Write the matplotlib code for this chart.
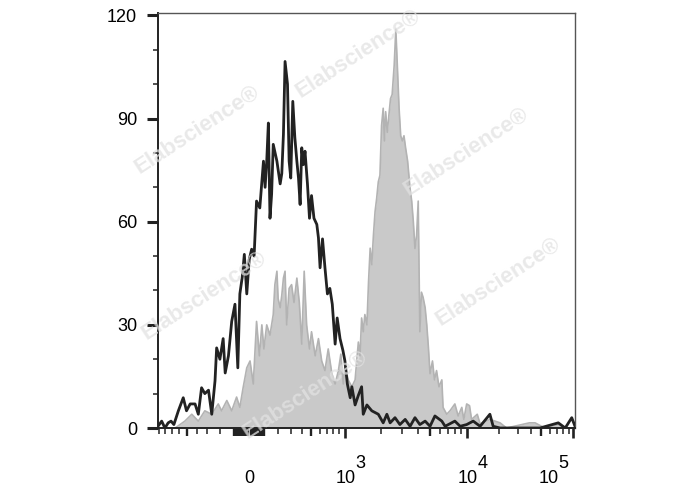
import numpy as np
import matplotlib.pyplot as plt
import matplotlib.transforms as mtransforms

plt.rcParams['font.family'] = ['Liberation Sans', 'DejaVu Sans']

# isotype / unstained control (black line): display channel (0-1024) vs count
ctrl_ch = [0, 9, 17, 25, 32, 39, 50, 62, 70, 79, 91, 99, 107, 115, 124, 132,
           140, 144, 152, 160, 165, 173, 181, 189, 196, 201, 207, 212, 218, 224,
           230, 236, 242, 250, 259, 263, 267, 271, 275, 279, 283, 292, 300, 304,
           308, 312, 318, 322, 326, 331, 336, 341, 345, 349, 353, 357, 361, 367,
           372, 377, 383, 390, 394, 398, 404, 410, 416, 422, 428, 435, 440, 447,
           454, 459, 465, 472, 476, 484, 492, 500, 504, 513, 525, 541, 553, 562,
           570, 582, 594, 607, 619, 631, 643, 656, 668, 680, 697, 705, 713, 729,
           742, 758, 774, 791, 815, 823, 840, 889, 938, 983, 1000, 1016, 1024]
ctrl_count = [0.5, 2, 0, 1.5, 2, 1, 5, 8.8, 5, 7, 7, 4, 11.7, 10, 11, 4,
              13.7, 23.3, 20, 26, 16, 21, 31, 36, 17.5, 39, 44, 50.5, 39, 49,
              52, 50, 66, 64, 77.6, 70, 77.6, 88.7, 61, 68, 82.5, 77.6, 71, 74,
              85.4, 106.6, 100, 77.6, 72.7, 95, 84.5, 77.6, 72.7, 65, 81.5, 76.6, 80.5, 71,
              61, 67.6, 61, 59.2, 55.3, 46.6, 55, 46.6, 39, 40.6, 36, 24.4, 32, 26,
              22.6, 19.5, 12.8, 8.8, 12, 6.7, 9.5, 12, 4, 6.7, 5, 4, 1.5, 4,
              1.5, 3, 1, 2.5, 0.5, 3, 1, 2, 0.5, 3.5, 2, 0.5, 1, 2,
              0.5, 1, 2, 0.5, 4, 0.5, 0, 0, 0, 1.5, 0, 3, 0.5]

# stained sample (grey filled)
stain_ch = [42, 66, 83, 99, 115, 132, 148, 156, 169, 181, 193, 201, 209, 218,
            226, 234, 242, 249, 255, 260, 267, 275, 283, 287, 292, 295, 300, 304,
            308, 312, 316, 322, 328, 334, 341, 347, 353, 359, 365, 372, 377, 386,
            394, 402, 410, 418, 427, 435, 443, 449, 455, 459, 467, 476, 484, 492,
            496, 500, 504, 508, 513, 517, 521, 525, 529, 533, 537, 541, 545, 549,
            553, 556, 559, 563, 567, 571, 575, 580, 584, 588, 592, 596, 600, 604,
            608, 613, 619, 623, 627, 631, 635, 639, 643, 647, 651, 656, 660, 664,
            668, 674, 679, 684, 690, 697, 700, 709, 717, 729, 737, 746, 751, 758,
            765, 770, 784, 791, 815, 840, 856, 912, 926, 950, 983, 1000, 1024]
stain_count = [0, 2, 4, 2, 5, 4, 7, 5, 8, 5, 9, 6, 11.7, 17.5,
               19.5, 12.8, 31, 21, 30, 23, 30, 27, 33, 41.7, 45.6, 37.6, 35, 38.6,
               43.6, 45.6, 30, 40.6, 41.7, 36.5, 43.6, 36.5, 24.4, 45.6, 30, 23, 28, 21,
               26, 19.5, 16.7, 23, 15.8, 12.8, 16.7, 21.5, 12.8, 18, 14, 12, 14, 25,
               21, 32, 28, 33, 30, 42.5, 52.3, 47.5, 56, 62.9, 66.8, 71.6, 73.5, 88,
               93, 83.5, 92, 86, 91, 95.8, 97, 105.5, 116, 104.6, 93, 85, 83.5, 85,
               81.5, 77.6, 69.6, 66, 60, 52.2, 56, 66, 28, 39.5, 38, 35, 30, 23.5,
               15.8, 19.5, 14, 16.7, 12, 14, 6, 4, 5, 7, 3.5, 6, 2.5, 7,
               6.5, 2.5, 4, 1.2, 2.5, 1.5, 0, 1.5, 1.5, 0, 1, 0, 0]

# biexponential axis calibration (value -> display channel)
cal_values = [-1e3, 0, 1e3, 1e4, 1e5]
cal_channels = [-10, 224, 458, 759, 1020]

decade_values = [1e3, 1e4, 1e5]
decade_exps = ['3', '4', '5']
small_values = np.concatenate([-np.arange(10, 110, 10), np.arange(10, 110, 10)])
mid_values = [-500, 500, 5e3, 5e4]
minor_values = np.concatenate([-np.arange(200, 1000, 100), np.arange(200, 1000, 100),
                               np.arange(2e3, 1e4, 1e3), np.arange(2e4, 1e5, 1e4)])


def to_channel(v):
    u = np.arcsinh(np.asarray(v, float) / 350.0)
    cal_u = np.arcsinh(np.array(cal_values) / 350.0)
    return np.interp(u, cal_u, cal_channels)


fig = plt.figure(figsize=(6.88, 4.9), dpi=100)
ax = fig.add_axes([158 / 688, 62 / 490, 417 / 688, 415 / 490])

ax.fill_between(stain_ch, stain_count, 0, color='#c9c9c9', lw=0, zorder=2)
ax.plot(stain_ch, stain_count, color='#b3b3b3', lw=1.2, zorder=2)
ax.plot(ctrl_ch, ctrl_count, color='#222222', lw=2.0, zorder=4)

ax.set_xlim(0, 1024)
ax.set_ylim(0, 120.7)

# y axis
ax.set_yticks([0, 30, 60, 90, 120])
ax.set_yticks(np.arange(0, 121, 10), minor=True)
ax.tick_params(axis='y', which='major', direction='out', length=8, width=2.2,
               labelsize=13, pad=7, color='#222222')
ax.tick_params(axis='y', which='minor', direction='out', length=3.6, width=1.1,
               color='#222222')

# x axis: ticks only, labels drawn by hand below
ax.set_xticks(to_channel(decade_values))
ax.set_xticklabels([])
ax.set_xticks(to_channel(minor_values), minor=True)
ax.tick_params(axis='x', which='major', direction='out', length=7.5, width=1.9,
               color='#222222')
ax.tick_params(axis='x', which='minor', direction='out', length=4, width=1.1,
               color='#222222')

sec = ax.secondary_xaxis('bottom')
sec.set_xticks(np.concatenate([to_channel(mid_values), to_channel(small_values)]))
sec.set_xticklabels([])
sec.tick_params(direction='out', length=6, width=1.7, color='#222222')
sec.spines['bottom'].set_visible(False)

trans = mtransforms.blended_transform_factory(ax.transData, ax.transAxes)
base_y = -55 / 415
exp_y = -40 / 415
ax.text(to_channel(0), base_y, '0', transform=trans, fontsize=13,
        ha='center', va='baseline')
for i, (val, e) in enumerate(zip(decade_values, decade_exps)):
    dx = -25 if i == 2 else 1
    off = mtransforms.ScaledTranslation(dx / 100, 0, fig.dpi_scale_trans)
    ax.text(to_channel(val), base_y, '10', transform=trans + off, fontsize=13,
            ha='center', va='baseline')
    off2 = mtransforms.ScaledTranslation((dx + 10) / 100, 0, fig.dpi_scale_trans)
    ax.text(to_channel(val), exp_y, e, transform=trans + off2, fontsize=13,
            ha='left', va='baseline')

for side in ['top', 'right']:
    ax.spines[side].set_color('#555555')
    ax.spines[side].set_linewidth(1.0)
for side in ['left', 'bottom']:
    ax.spines[side].set_color('#222222')
    ax.spines[side].set_linewidth(1.4)

# watermark
marks = [(197, 130), (358, 54), (466, 152), (498, 282), (204, 296), (305, 395)]
for mx, my in marks:
    fig.text(mx / 688, 1 - my / 490, 'Elabscience\u00ae', fontsize=16,
             fontweight='bold', color='#e2e2e2', alpha=0.75, rotation=33,
             ha='center', va='center', zorder=3)

fig.savefig('out.png', dpi=100)
